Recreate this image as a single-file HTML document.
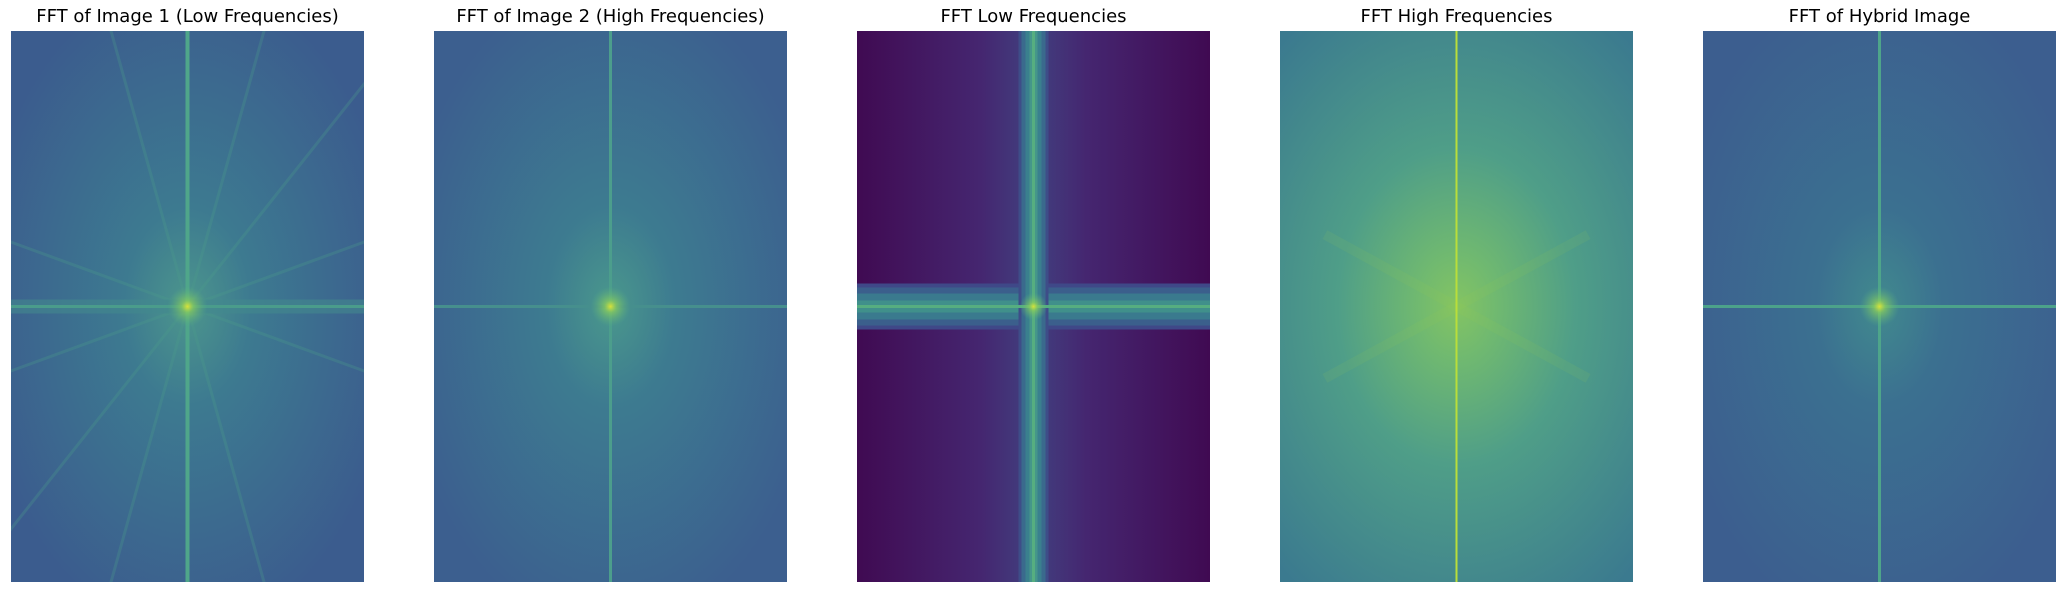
<!DOCTYPE html>
<html style="margin:0;width:2056px;height:590px;overflow:hidden"><head><meta charset="utf-8"><style>
body{margin:0;background:#fff;width:2056px;height:590px;overflow:hidden;font-family:"DejaVu Sans","Liberation Sans",sans-serif}
svg{display:block}
</style></head><body>
<svg width="2056" height="590" xmlns="http://www.w3.org/2000/svg">
<defs>
<radialGradient id="g1" cx="0.5" cy="0.5" r="0.6"><stop offset="0" stop-color="#4c968c"/><stop offset="0.3" stop-color="#3d7a90"/><stop offset="1" stop-color="#3b5c8e"/></radialGradient>
<radialGradient id="g2" cx="0.5" cy="0.5" r="0.6"><stop offset="0" stop-color="#4a988c"/><stop offset="0.3" stop-color="#3d7b90"/><stop offset="1" stop-color="#3c5f8f"/></radialGradient>
<linearGradient id="g3" x1="0" x2="1" y1="0" y2="0"><stop offset="0" stop-color="#400a52"/><stop offset="0.35" stop-color="#452670"/><stop offset="0.5" stop-color="#41407f"/><stop offset="0.65" stop-color="#452670"/><stop offset="1" stop-color="#400a52"/></linearGradient>
<radialGradient id="g4" cx="0.5" cy="0.5" r="0.75" gradientTransform="translate(0.5 0.5) scale(1 0.85) translate(-0.5 -0.5)"><stop offset="0" stop-color="#84c462"/><stop offset="0.15" stop-color="#70b970"/><stop offset="0.45" stop-color="#4f9e88"/><stop offset="1" stop-color="#3b7a8f"/></radialGradient>
<radialGradient id="g5" cx="0.5" cy="0.5" r="0.6"><stop offset="0" stop-color="#418a8e"/><stop offset="0.3" stop-color="#3b7090"/><stop offset="1" stop-color="#3c5e8f"/></radialGradient>
<radialGradient id="spot"><stop offset="0" stop-color="#d8e23a"/><stop offset="0.3" stop-color="#8ccf5a" stop-opacity="0.7"/><stop offset="1" stop-color="#5bb27f" stop-opacity="0"/></radialGradient>
</defs>
<g id="panels"></g>
</svg>
<script>
const titles=["FFT of Image 1 (Low Frequencies)","FFT of Image 2 (High Frequencies)","FFT Low Frequencies","FFT High Frequencies","FFT of Hybrid Image"];
const fills=["g1","g2","g3","g4","g5"];
const vLine=[4,3,3,2,3];
const hLine=[3,3,3,0,3];
const vColor=["#4fa68a","#4c9e8c","#56ae80","#b9de3a","#4ea58a"];
const hColor=["#4a9c8b","#468f8d","#56ae80","#000","#4ca28a"];
const streakAngles=[-0.9,0.35,-0.35,1.3,-1.3];
const ns="http://www.w3.org/2000/svg";
const g=document.getElementById('panels');
const defs=document.querySelector('defs');
const W=353,H=551,top0=31,left0=11,pitch=423;
function mk(t,a){const e=document.createElementNS(ns,t);for(const k in a)e.setAttribute(k,a[k]);return e;}
titles.forEach((t,i)=>{
 const x=left0+i*pitch,cx=x+W/2,cy=top0+H/2;
 const cp=mk('clipPath',{id:'clip'+i});cp.appendChild(mk('rect',{x:x,y:top0,width:W,height:H}));defs.appendChild(cp);
 const p=mk('g',{});
 
 
 const im=mk('g',{'clip-path':'url(#clip'+i+')'});
 const r=mk('rect',{x:x,y:top0,width:W,height:H,fill:'url(#'+fills[i]+')'});
 
 
 im.appendChild(r);
 if(i===2){
  [[46,'#3f4888'],[38,'#3b5f8c'],[26,'#3a7a8e'],[12,'#40908b']].forEach(b=>{
   im.appendChild(mk('rect',{x:x,y:cy-b[0]/2,width:W,height:b[0],fill:b[1]}));
  });
  [[30,'#3e4d88'],[24,'#3a6a8d'],[16,'#3a808e'],[8,'#45968a']].forEach(b=>{
   im.appendChild(mk('rect',{x:cx-b[0]/2,y:top0,width:b[0],height:H,fill:b[1]}));
  });
 }
 if(i===0){
  streakAngles.forEach(a=>{
   const L=400,dx=Math.cos(a)*L,dy=Math.sin(a)*L;
   im.appendChild(mk('line',{x1:cx-dx,y1:cy-dy,x2:cx+dx,y2:cy+dy,stroke:'#4b9a8c','stroke-opacity':0.3,'stroke-width':3}));
  });
  im.appendChild(mk('rect',{x:x,y:cy-7,width:W,height:14,fill:'#43898d','fill-opacity':0.6}));
 }
 if(i===3){
  [0.5,-0.5].forEach(a=>{const L=300,dx=Math.cos(a)*L,dy=Math.sin(a)*L;
   im.appendChild(mk('line',{x1:cx-dx*0.5,y1:cy-dy*0.5,x2:cx+dx*0.5,y2:cy+dy*0.5,stroke:'#a0d050','stroke-opacity':0.1,'stroke-width':10}));});
 }
 im.appendChild(mk('rect',{x:cx-vLine[i]/2,y:top0,width:vLine[i],height:H,fill:vColor[i]}));
 if(hLine[i]>0)im.appendChild(mk('rect',{x:x,y:cy-hLine[i]/2,width:W,height:hLine[i],fill:hColor[i]}));
 if(i!==3)im.appendChild(mk('circle',{cx:cx,cy:cy,r:i===2?14:20,fill:'url(#spot)'}));
 p.appendChild(im);
 const tx=mk('text',{x:cx,y:22,'text-anchor':'middle','font-size':18,fill:'#000'});
 
 
 tx.textContent=t;
 p.appendChild(tx);
 g.appendChild(p);
});
</script>
</body></html>
